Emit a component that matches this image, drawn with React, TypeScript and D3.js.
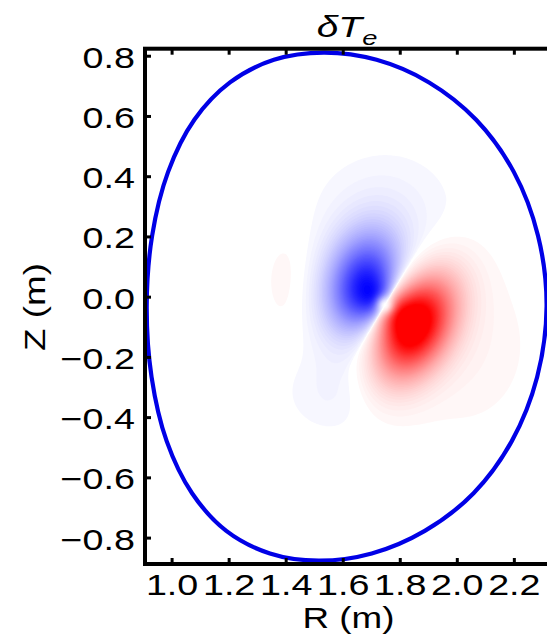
import React, { useMemo } from 'react';
import * as d3 from 'd3';

const W = 547;
const H = 641;

// axis limits (data units, metres)
const xDomain = [0.905, 2.325];
const yDomain = [-0.886, 0.825];
const xTicks = [1.0, 1.2, 1.4, 1.6, 1.8, 2.0, 2.2];
const yTicks = [-0.8, -0.6, -0.4, -0.2, 0.0, 0.2, 0.4, 0.6, 0.8];

// plasma boundary (counter-clockwise from the outboard midplane)
const boundaryR = [2.313, 2.283, 2.198, 2.066, 1.901, 1.717, 1.532, 1.357, 1.203, 1.078, 0.986, 0.930, 0.911, 0.928, 0.981, 1.070, 1.190, 1.343, 1.514, 1.700, 1.886, 2.057, 2.191, 2.280];
const boundaryZ = [-0.030, 0.204, 0.416, 0.589, 0.713, 0.788, 0.812, 0.788, 0.713, 0.589, 0.416, 0.204, -0.030, -0.265, -0.478, -0.651, -0.776, -0.851, -0.875, -0.851, -0.776, -0.651, -0.478, -0.265];

// magnetic axis and the zero line of the dipole-like perturbation
const axisR = 1.746;
const axisZ = -0.026;
const zeroLineAngle = 58; // degrees
const holeRadius = 0.023;
const gateExponent = 0.6;

// core lobes of delta Te: [red, blue]
const lobeR = [1.840, 1.695];
const lobeZ = [-0.090, 0.032];
const lobeAmp = [1.25, -1.0];
const lobeSigAlong = [0.135, 0.13];
const lobeSigAcross = [0.085, 0.095];
const lobeAngle = [60, 75];

// faint outer structures
const haloR = [1.755, 1.420, 1.585, 2.020];
const haloZ = [0.270, 0.055, -0.310, -0.160];
const haloAmp = [-0.045, 0.036, -0.045, 0.04];
const haloSigR = [0.18, 0.075, 0.13, 0.17];
const haloSigZ = [0.15, 0.14, 0.10, 0.20];

const levelStep = 0.02;

function lobe(R: number, Z: number, k: number) {
  const a = (lobeAngle[k] * Math.PI) / 180;
  const dR = R - lobeR[k];
  const dZ = Z - lobeZ[k];
  const u = dR * Math.cos(a) + dZ * Math.sin(a);
  const w = -dR * Math.sin(a) + dZ * Math.cos(a);
  return Math.exp(-(u * u) / (2 * lobeSigAlong[k] ** 2) - (w * w) / (2 * lobeSigAcross[k] ** 2));
}

function field(R: number, Z: number) {
  const dR = R - axisR;
  const dZ = Z - axisZ;
  const r2 = dR * dR + dZ * dZ;
  const r = Math.sqrt(r2);
  const a = (zeroLineAngle * Math.PI) / 180;
  const q = r > 0 ? (dR * Math.sin(a) - dZ * Math.cos(a)) / r : 0;
  const gate = Math.pow(Math.abs(q), gateExponent);
  const hole = 1 - Math.exp(-r2 / (2 * holeRadius * holeRadius));
  const k = q >= 0 ? 0 : 1;
  let v = gate * hole * lobeAmp[k] * lobe(R, Z, k);
  for (let i = 0; i < haloR.length; i++) {
    const hr = (R - haloR[i]) / haloSigR[i];
    const hz = (Z - haloZ[i]) / haloSigZ[i];
    v += haloAmp[i] * Math.exp(-0.5 * (hr * hr + hz * hz));
  }
  return v;
}

function redColor(t: number) {
  const c = Math.round(255 * (1 - Math.min(1, t)));
  return `rgb(255,${c},${c})`;
}
function blueColor(t: number) {
  const c = Math.round(255 * (1 - Math.min(1, t)));
  return `rgb(${c},${c},255)`;
}

export default function App() {
  const left = 145;
  const right = 550;
  const top = 48.7;
  const bottom = 564;
  const x = d3.scaleLinear().domain(xDomain).range([left, right]);
  const y = d3.scaleLinear().domain(yDomain).range([bottom, top]);

  const cell = 2;
  const nx = Math.ceil((right - left) / cell);
  const ny = Math.ceil((bottom - top) / cell);

  const { posPaths, negPaths } = useMemo(() => {
    const values = new Array(nx * ny);
    for (let j = 0; j < ny; j++) {
      for (let i = 0; i < nx; i++) {
        values[j * nx + i] = field(x.invert(left + (i + 0.5) * cell), y.invert(top + (j + 0.5) * cell));
      }
    }
    const neg = values.map((v: number) => -v);
    const levels = d3.range(levelStep, 1.0001, levelStep);
    const gen = d3.contours().size([nx, ny]).thresholds(levels);
    const path = d3.geoPath(d3.geoIdentity().scale(cell).translate([left, top]) as any);
    const pos = gen(values).map((c) => ({ d: path(c as any) || '', fill: redColor(c.value + levelStep / 2) }));
    const ng = gen(neg).map((c) => ({ d: path(c as any) || '', fill: blueColor(c.value + levelStep / 2) }));
    return { posPaths: pos, negPaths: ng };
  }, []);

  const boundaryPts = boundaryR.map((R, i) => [x(R), y(boundaryZ[i])] as [number, number]);
  const boundaryPath = d3.line().curve(d3.curveCatmullRomClosed.alpha(0.5))(boundaryPts) || '';

  const font = "'Liberation Sans', Arial, Helvetica, sans-serif";
  const sx = 1.3;

  return (
    <div style={{ position: 'absolute', left: 0, top: 0 }}>
      <svg width={W} height={H} style={{ display: 'block', background: '#fff' }}>
        <defs>
          <clipPath id="plasma">
            <path d={boundaryPath} />
          </clipPath>
        </defs>
        <rect x={left} y={top} width={right - left} height={bottom - top} fill="#fff" />
        <g clipPath="url(#plasma)">
          {posPaths.map((p, i) => (
            <path key={'p' + i} d={p.d} fill={p.fill} stroke="none" />
          ))}
          {negPaths.map((p, i) => (
            <path key={'n' + i} d={p.d} fill={p.fill} stroke="none" />
          ))}
        </g>
        <path d={boundaryPath} fill="none" stroke="#0000e6" strokeWidth={4.2} />
        <rect x={left} y={top} width={right - left} height={bottom - top} fill="none" stroke="#000" strokeWidth={4} />
        {xTicks.map((t) => (
          <g key={'xt' + t}>
            <line x1={x(t)} x2={x(t)} y1={bottom} y2={bottom - 6} stroke="#000" strokeWidth={3} />
            <line x1={x(t)} x2={x(t)} y1={top} y2={top + 6} stroke="#000" strokeWidth={3} />
            <text
              transform={`translate(${x(t)},595) scale(${sx},1)`}
              textAnchor="middle"
              fontFamily={font}
              fontSize={29}
              fill="#000"
            >
              {t.toFixed(1)}
            </text>
          </g>
        ))}
        {yTicks.map((t) => (
          <g key={'yt' + t}>
            <line x1={left} x2={left + 6} y1={y(t)} y2={y(t)} stroke="#000" strokeWidth={3} />
            <text
              transform={`translate(135,${y(t) + 11.5}) scale(${sx},1)`}
              textAnchor="end"
              fontFamily={font}
              fontSize={29}
              fill="#000"
            >
              {(t < 0 ? '\u2212' : '') + Math.abs(t).toFixed(1)}
            </text>
          </g>
        ))}
        <text
          transform={`translate(347,37) scale(${sx},1)`}
          textAnchor="middle"
          fontFamily={font}
          fontSize={30}
          fontStyle="italic"
          fill="#000"
        >
          δT
          <tspan fontSize={21} dy={8}>e</tspan>
        </text>
        <text
          transform={`translate(348.5,628) scale(1.27,1)`}
          textAnchor="middle"
          fontFamily={font}
          fontSize={29}
          fill="#000"
        >
          R (m)
        </text>
        <text
          transform={`translate(45,307) rotate(-90) scale(1.27,1)`}
          textAnchor="middle"
          fontFamily={font}
          fontSize={29}
          fill="#000"
        >
          Z (m)
        </text>
      </svg>
    </div>
  );
}
